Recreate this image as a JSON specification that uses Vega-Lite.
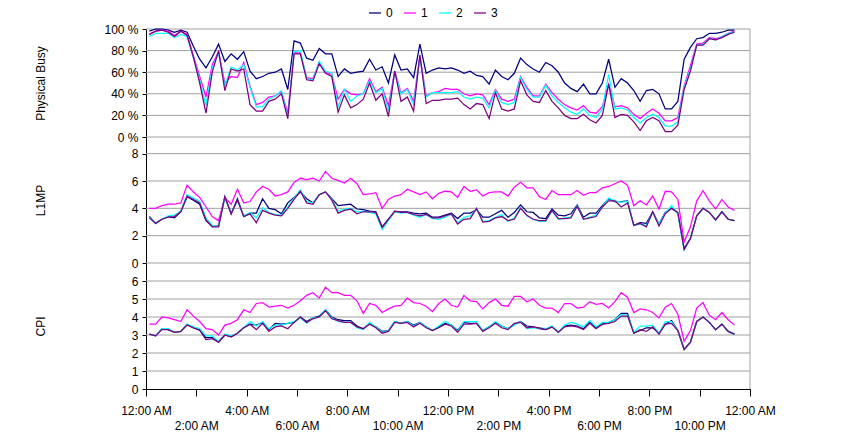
{
  "$schema": "https://vega.github.io/schema/vega-lite/v6.json",
  "padding": {"left": 34, "top": 6, "right": 5, "bottom": 0},
  "spacing": 0,
  "bounds": "flush",
  "config": {
    "font": "Liberation Sans",
    "view": {"stroke": null},
    "axis": {
      "labelFont": "Liberation Sans", "labelFontSize": 12, "labelColor": "black",
      "titleFont": "Liberation Sans", "titleFontSize": 12, "titleFontWeight": "normal", "titleColor": "black",
      "domainColor": "black", "tickColor": "black", "grid": false, "labelOverlap": false
    },
    "line": {"strokeWidth": 1.25},
    "rule": {"color": "#a0a0a0", "strokeWidth": 1}
  },
  "data": {"values": [
    {"time":"2024-01-01T00:08","cpu":"0","busy":98,"l1mp":3.4,"cpi":3.05},
    {"time":"2024-01-01T00:23","cpu":"0","busy":100,"l1mp":2.9,"cpi":2.95},
    {"time":"2024-01-01T00:38","cpu":"0","busy":100,"l1mp":3.2,"cpi":3.35},
    {"time":"2024-01-01T00:53","cpu":"0","busy":99,"l1mp":3.4,"cpi":3.3},
    {"time":"2024-01-01T01:08","cpu":"0","busy":97,"l1mp":3.3,"cpi":3.15},
    {"time":"2024-01-01T01:23","cpu":"0","busy":99,"l1mp":3.75,"cpi":3.2},
    {"time":"2024-01-01T01:38","cpu":"0","busy":97,"l1mp":4.85,"cpi":3.6},
    {"time":"2024-01-01T01:53","cpu":"0","busy":84,"l1mp":4.6,"cpi":3.4},
    {"time":"2024-01-01T02:08","cpu":"0","busy":72,"l1mp":4.3,"cpi":3.3},
    {"time":"2024-01-01T02:23","cpu":"0","busy":64,"l1mp":3.1,"cpi":2.85},
    {"time":"2024-01-01T02:38","cpu":"0","busy":74,"l1mp":2.7,"cpi":2.85},
    {"time":"2024-01-01T02:53","cpu":"0","busy":86,"l1mp":2.7,"cpi":2.6},
    {"time":"2024-01-01T03:08","cpu":"0","busy":70,"l1mp":4.85,"cpi":3.0},
    {"time":"2024-01-01T03:23","cpu":"0","busy":77,"l1mp":3.6,"cpi":2.9},
    {"time":"2024-01-01T03:38","cpu":"0","busy":72,"l1mp":4.7,"cpi":3.1},
    {"time":"2024-01-01T03:53","cpu":"0","busy":79,"l1mp":3.4,"cpi":3.4},
    {"time":"2024-01-01T04:08","cpu":"0","busy":61,"l1mp":3.65,"cpi":3.6},
    {"time":"2024-01-01T04:23","cpu":"0","busy":54,"l1mp":3.65,"cpi":3.55},
    {"time":"2024-01-01T04:38","cpu":"0","busy":56,"l1mp":4.7,"cpi":3.7},
    {"time":"2024-01-01T04:53","cpu":"0","busy":59,"l1mp":4.0,"cpi":3.3},
    {"time":"2024-01-01T05:08","cpu":"0","busy":60,"l1mp":3.9,"cpi":3.65},
    {"time":"2024-01-01T05:23","cpu":"0","busy":63,"l1mp":3.6,"cpi":3.6},
    {"time":"2024-01-01T05:38","cpu":"0","busy":44,"l1mp":4.4,"cpi":3.65},
    {"time":"2024-01-01T05:53","cpu":"0","busy":89,"l1mp":4.8,"cpi":3.7},
    {"time":"2024-01-01T06:08","cpu":"0","busy":87,"l1mp":5.2,"cpi":4.0},
    {"time":"2024-01-01T06:23","cpu":"0","busy":73,"l1mp":4.7,"cpi":3.75},
    {"time":"2024-01-01T06:38","cpu":"0","busy":71,"l1mp":4.4,"cpi":3.95},
    {"time":"2024-01-01T06:53","cpu":"0","busy":82,"l1mp":5.0,"cpi":4.05},
    {"time":"2024-01-01T07:08","cpu":"0","busy":77,"l1mp":5.2,"cpi":4.4},
    {"time":"2024-01-01T07:23","cpu":"0","busy":77,"l1mp":4.7,"cpi":4.0},
    {"time":"2024-01-01T07:38","cpu":"0","busy":56,"l1mp":4.2,"cpi":3.85},
    {"time":"2024-01-01T07:53","cpu":"0","busy":63,"l1mp":4.25,"cpi":3.8},
    {"time":"2024-01-01T08:08","cpu":"0","busy":59,"l1mp":4.3,"cpi":3.8},
    {"time":"2024-01-01T08:23","cpu":"0","busy":60,"l1mp":3.95,"cpi":3.5},
    {"time":"2024-01-01T08:38","cpu":"0","busy":61,"l1mp":3.9,"cpi":3.35},
    {"time":"2024-01-01T08:53","cpu":"0","busy":72,"l1mp":3.8,"cpi":3.65},
    {"time":"2024-01-01T09:08","cpu":"0","busy":62,"l1mp":3.75,"cpi":3.45},
    {"time":"2024-01-01T09:23","cpu":"0","busy":65,"l1mp":2.65,"cpi":3.2},
    {"time":"2024-01-01T09:38","cpu":"0","busy":50,"l1mp":3.2,"cpi":3.25},
    {"time":"2024-01-01T09:53","cpu":"0","busy":76,"l1mp":3.75,"cpi":3.75},
    {"time":"2024-01-01T10:08","cpu":"0","busy":62,"l1mp":3.75,"cpi":3.65},
    {"time":"2024-01-01T10:23","cpu":"0","busy":63,"l1mp":3.75,"cpi":3.75},
    {"time":"2024-01-01T10:38","cpu":"0","busy":55,"l1mp":3.65,"cpi":3.55},
    {"time":"2024-01-01T10:53","cpu":"0","busy":86,"l1mp":3.6,"cpi":3.7},
    {"time":"2024-01-01T11:08","cpu":"0","busy":59,"l1mp":3.65,"cpi":3.45},
    {"time":"2024-01-01T11:23","cpu":"0","busy":62,"l1mp":3.35,"cpi":3.25},
    {"time":"2024-01-01T11:38","cpu":"0","busy":64,"l1mp":3.35,"cpi":3.45},
    {"time":"2024-01-01T11:53","cpu":"0","busy":63,"l1mp":3.5,"cpi":3.65},
    {"time":"2024-01-01T12:08","cpu":"0","busy":64,"l1mp":3.65,"cpi":3.55},
    {"time":"2024-01-01T12:23","cpu":"0","busy":62,"l1mp":3.25,"cpi":3.25},
    {"time":"2024-01-01T12:38","cpu":"0","busy":59,"l1mp":3.65,"cpi":3.7},
    {"time":"2024-01-01T12:53","cpu":"0","busy":61,"l1mp":3.65,"cpi":3.65},
    {"time":"2024-01-01T13:08","cpu":"0","busy":57,"l1mp":3.9,"cpi":3.65},
    {"time":"2024-01-01T13:23","cpu":"0","busy":56,"l1mp":3.35,"cpi":3.25},
    {"time":"2024-01-01T13:38","cpu":"0","busy":49,"l1mp":3.35,"cpi":3.45},
    {"time":"2024-01-01T13:53","cpu":"0","busy":62,"l1mp":3.6,"cpi":3.7},
    {"time":"2024-01-01T14:08","cpu":"0","busy":56,"l1mp":3.85,"cpi":3.5},
    {"time":"2024-01-01T14:23","cpu":"0","busy":53,"l1mp":3.35,"cpi":3.35},
    {"time":"2024-01-01T14:38","cpu":"0","busy":59,"l1mp":3.7,"cpi":3.6},
    {"time":"2024-01-01T14:53","cpu":"0","busy":73,"l1mp":4.25,"cpi":3.75},
    {"time":"2024-01-01T15:08","cpu":"0","busy":67,"l1mp":3.75,"cpi":3.5},
    {"time":"2024-01-01T15:23","cpu":"0","busy":63,"l1mp":3.7,"cpi":3.45},
    {"time":"2024-01-01T15:38","cpu":"0","busy":60,"l1mp":3.3,"cpi":3.35},
    {"time":"2024-01-01T15:53","cpu":"0","busy":69,"l1mp":3.25,"cpi":3.3},
    {"time":"2024-01-01T16:08","cpu":"0","busy":66,"l1mp":3.95,"cpi":3.45},
    {"time":"2024-01-01T16:23","cpu":"0","busy":60,"l1mp":3.5,"cpi":3.15},
    {"time":"2024-01-01T16:38","cpu":"0","busy":50,"l1mp":3.45,"cpi":3.5},
    {"time":"2024-01-01T16:53","cpu":"0","busy":45,"l1mp":3.6,"cpi":3.55},
    {"time":"2024-01-01T17:08","cpu":"0","busy":42,"l1mp":4.25,"cpi":3.5},
    {"time":"2024-01-01T17:23","cpu":"0","busy":49,"l1mp":3.35,"cpi":3.35},
    {"time":"2024-01-01T17:38","cpu":"0","busy":40,"l1mp":3.65,"cpi":3.75},
    {"time":"2024-01-01T17:53","cpu":"0","busy":40,"l1mp":3.65,"cpi":3.4},
    {"time":"2024-01-01T18:08","cpu":"0","busy":50,"l1mp":4.2,"cpi":3.6},
    {"time":"2024-01-01T18:23","cpu":"0","busy":72,"l1mp":4.7,"cpi":3.7},
    {"time":"2024-01-01T18:38","cpu":"0","busy":46,"l1mp":4.5,"cpi":3.85},
    {"time":"2024-01-01T18:53","cpu":"0","busy":54,"l1mp":4.5,"cpi":4.2},
    {"time":"2024-01-01T19:08","cpu":"0","busy":50,"l1mp":4.55,"cpi":4.2},
    {"time":"2024-01-01T19:23","cpu":"0","busy":43,"l1mp":2.75,"cpi":3.1},
    {"time":"2024-01-01T19:38","cpu":"0","busy":33,"l1mp":2.95,"cpi":3.25},
    {"time":"2024-01-01T19:53","cpu":"0","busy":43,"l1mp":2.9,"cpi":3.4},
    {"time":"2024-01-01T20:08","cpu":"0","busy":44,"l1mp":3.75,"cpi":3.4},
    {"time":"2024-01-01T20:23","cpu":"0","busy":40,"l1mp":2.85,"cpi":3.1},
    {"time":"2024-01-01T20:38","cpu":"0","busy":26,"l1mp":3.7,"cpi":3.6},
    {"time":"2024-01-01T20:53","cpu":"0","busy":26,"l1mp":4.0,"cpi":3.8},
    {"time":"2024-01-01T21:08","cpu":"0","busy":33,"l1mp":3.65,"cpi":3.25},
    {"time":"2024-01-01T21:23","cpu":"0","busy":72,"l1mp":1.05,"cpi":2.2},
    {"time":"2024-01-01T21:38","cpu":"0","busy":83,"l1mp":1.8,"cpi":2.6},
    {"time":"2024-01-01T21:53","cpu":"0","busy":91,"l1mp":3.45,"cpi":3.75},
    {"time":"2024-01-01T22:08","cpu":"0","busy":92,"l1mp":4.0,"cpi":4.0},
    {"time":"2024-01-01T22:23","cpu":"0","busy":96,"l1mp":3.7,"cpi":3.7},
    {"time":"2024-01-01T22:38","cpu":"0","busy":96,"l1mp":3.15,"cpi":3.3},
    {"time":"2024-01-01T22:53","cpu":"0","busy":97,"l1mp":3.75,"cpi":3.6},
    {"time":"2024-01-01T23:08","cpu":"0","busy":99,"l1mp":3.2,"cpi":3.2},
    {"time":"2024-01-01T23:23","cpu":"0","busy":99,"l1mp":3.1,"cpi":3.05},
    {"time":"2024-01-01T00:08","cpu":"1","busy":95,"l1mp":4.0,"cpi":3.6},
    {"time":"2024-01-01T00:23","cpu":"1","busy":98,"l1mp":4.0,"cpi":3.6},
    {"time":"2024-01-01T00:38","cpu":"1","busy":99,"l1mp":4.2,"cpi":4.0},
    {"time":"2024-01-01T00:53","cpu":"1","busy":98,"l1mp":4.3,"cpi":3.95},
    {"time":"2024-01-01T01:08","cpu":"1","busy":94,"l1mp":4.3,"cpi":3.85},
    {"time":"2024-01-01T01:23","cpu":"1","busy":98,"l1mp":4.4,"cpi":3.75},
    {"time":"2024-01-01T01:38","cpu":"1","busy":95,"l1mp":5.7,"cpi":4.4},
    {"time":"2024-01-01T01:53","cpu":"1","busy":75,"l1mp":5.2,"cpi":4.05},
    {"time":"2024-01-01T02:08","cpu":"1","busy":56,"l1mp":4.8,"cpi":3.75},
    {"time":"2024-01-01T02:23","cpu":"1","busy":37,"l1mp":4.1,"cpi":3.35},
    {"time":"2024-01-01T02:38","cpu":"1","busy":67,"l1mp":3.4,"cpi":3.3},
    {"time":"2024-01-01T02:53","cpu":"1","busy":79,"l1mp":3.1,"cpi":3.0},
    {"time":"2024-01-01T03:08","cpu":"1","busy":50,"l1mp":4.8,"cpi":3.55},
    {"time":"2024-01-01T03:23","cpu":"1","busy":56,"l1mp":4.3,"cpi":3.65},
    {"time":"2024-01-01T03:38","cpu":"1","busy":55,"l1mp":5.4,"cpi":3.85},
    {"time":"2024-01-01T03:53","cpu":"1","busy":69,"l1mp":4.4,"cpi":4.4},
    {"time":"2024-01-01T04:08","cpu":"1","busy":47,"l1mp":4.5,"cpi":4.25},
    {"time":"2024-01-01T04:23","cpu":"1","busy":30,"l1mp":5.2,"cpi":4.75},
    {"time":"2024-01-01T04:38","cpu":"1","busy":32,"l1mp":5.6,"cpi":4.8},
    {"time":"2024-01-01T04:53","cpu":"1","busy":37,"l1mp":5.4,"cpi":4.55},
    {"time":"2024-01-01T05:08","cpu":"1","busy":38,"l1mp":4.9,"cpi":4.6},
    {"time":"2024-01-01T05:23","cpu":"1","busy":42,"l1mp":5.0,"cpi":4.65},
    {"time":"2024-01-01T05:38","cpu":"1","busy":22,"l1mp":5.2,"cpi":4.5},
    {"time":"2024-01-01T05:53","cpu":"1","busy":78,"l1mp":5.9,"cpi":4.65},
    {"time":"2024-01-01T06:08","cpu":"1","busy":78,"l1mp":6.2,"cpi":4.9},
    {"time":"2024-01-01T06:23","cpu":"1","busy":55,"l1mp":6.1,"cpi":5.2},
    {"time":"2024-01-01T06:38","cpu":"1","busy":54,"l1mp":6.2,"cpi":5.35},
    {"time":"2024-01-01T06:53","cpu":"1","busy":69,"l1mp":6.0,"cpi":5.05},
    {"time":"2024-01-01T07:08","cpu":"1","busy":60,"l1mp":6.7,"cpi":5.65},
    {"time":"2024-01-01T07:23","cpu":"1","busy":58,"l1mp":6.2,"cpi":5.35},
    {"time":"2024-01-01T07:38","cpu":"1","busy":35,"l1mp":6.05,"cpi":5.35},
    {"time":"2024-01-01T07:53","cpu":"1","busy":44,"l1mp":5.85,"cpi":5.2},
    {"time":"2024-01-01T08:08","cpu":"1","busy":40,"l1mp":6.2,"cpi":5.2},
    {"time":"2024-01-01T08:23","cpu":"1","busy":39,"l1mp":5.8,"cpi":4.9},
    {"time":"2024-01-01T08:38","cpu":"1","busy":40,"l1mp":5.0,"cpi":4.2},
    {"time":"2024-01-01T08:53","cpu":"1","busy":54,"l1mp":5.05,"cpi":4.75},
    {"time":"2024-01-01T09:08","cpu":"1","busy":42,"l1mp":5.15,"cpi":4.65},
    {"time":"2024-01-01T09:23","cpu":"1","busy":46,"l1mp":4.0,"cpi":4.25},
    {"time":"2024-01-01T09:38","cpu":"1","busy":29,"l1mp":4.65,"cpi":4.45},
    {"time":"2024-01-01T09:53","cpu":"1","busy":61,"l1mp":4.9,"cpi":4.6},
    {"time":"2024-01-01T10:08","cpu":"1","busy":41,"l1mp":5.0,"cpi":4.65},
    {"time":"2024-01-01T10:23","cpu":"1","busy":45,"l1mp":5.4,"cpi":5.05},
    {"time":"2024-01-01T10:38","cpu":"1","busy":33,"l1mp":5.2,"cpi":4.8},
    {"time":"2024-01-01T10:53","cpu":"1","busy":75,"l1mp":5.0,"cpi":4.75},
    {"time":"2024-01-01T11:08","cpu":"1","busy":38,"l1mp":5.2,"cpi":4.6},
    {"time":"2024-01-01T11:23","cpu":"1","busy":41,"l1mp":4.7,"cpi":4.3},
    {"time":"2024-01-01T11:38","cpu":"1","busy":42,"l1mp":5.1,"cpi":4.75},
    {"time":"2024-01-01T11:53","cpu":"1","busy":45,"l1mp":5.25,"cpi":5.0},
    {"time":"2024-01-01T12:08","cpu":"1","busy":44,"l1mp":5.2,"cpi":4.65},
    {"time":"2024-01-01T12:23","cpu":"1","busy":44,"l1mp":4.8,"cpi":4.55},
    {"time":"2024-01-01T12:38","cpu":"1","busy":40,"l1mp":5.6,"cpi":5.2},
    {"time":"2024-01-01T12:53","cpu":"1","busy":38,"l1mp":5.25,"cpi":4.9},
    {"time":"2024-01-01T13:08","cpu":"1","busy":40,"l1mp":5.35,"cpi":4.85},
    {"time":"2024-01-01T13:23","cpu":"1","busy":39,"l1mp":4.9,"cpi":4.45},
    {"time":"2024-01-01T13:38","cpu":"1","busy":30,"l1mp":5.15,"cpi":4.8},
    {"time":"2024-01-01T13:53","cpu":"1","busy":44,"l1mp":5.2,"cpi":5.0},
    {"time":"2024-01-01T14:08","cpu":"1","busy":35,"l1mp":5.2,"cpi":4.65},
    {"time":"2024-01-01T14:23","cpu":"1","busy":33,"l1mp":4.9,"cpi":4.6},
    {"time":"2024-01-01T14:38","cpu":"1","busy":35,"l1mp":5.55,"cpi":5.15},
    {"time":"2024-01-01T14:53","cpu":"1","busy":56,"l1mp":5.9,"cpi":5.15},
    {"time":"2024-01-01T15:08","cpu":"1","busy":46,"l1mp":5.5,"cpi":4.85},
    {"time":"2024-01-01T15:23","cpu":"1","busy":38,"l1mp":5.5,"cpi":5.0},
    {"time":"2024-01-01T15:38","cpu":"1","busy":38,"l1mp":4.85,"cpi":4.65},
    {"time":"2024-01-01T15:53","cpu":"1","busy":49,"l1mp":4.65,"cpi":4.5},
    {"time":"2024-01-01T16:08","cpu":"1","busy":41,"l1mp":5.3,"cpi":4.5},
    {"time":"2024-01-01T16:23","cpu":"1","busy":35,"l1mp":5.0,"cpi":4.25},
    {"time":"2024-01-01T16:38","cpu":"1","busy":30,"l1mp":5.0,"cpi":4.75},
    {"time":"2024-01-01T16:53","cpu":"1","busy":27,"l1mp":5.0,"cpi":4.75},
    {"time":"2024-01-01T17:08","cpu":"1","busy":25,"l1mp":5.3,"cpi":4.5},
    {"time":"2024-01-01T17:23","cpu":"1","busy":29,"l1mp":4.95,"cpi":4.55},
    {"time":"2024-01-01T17:38","cpu":"1","busy":23,"l1mp":5.15,"cpi":4.85},
    {"time":"2024-01-01T17:53","cpu":"1","busy":22,"l1mp":5.15,"cpi":4.7},
    {"time":"2024-01-01T18:08","cpu":"1","busy":28,"l1mp":5.5,"cpi":4.75},
    {"time":"2024-01-01T18:23","cpu":"1","busy":49,"l1mp":5.6,"cpi":4.5},
    {"time":"2024-01-01T18:38","cpu":"1","busy":28,"l1mp":5.8,"cpi":4.85},
    {"time":"2024-01-01T18:53","cpu":"1","busy":29,"l1mp":6.0,"cpi":5.35},
    {"time":"2024-01-01T19:08","cpu":"1","busy":27,"l1mp":5.7,"cpi":5.1},
    {"time":"2024-01-01T19:23","cpu":"1","busy":21,"l1mp":4.2,"cpi":4.25},
    {"time":"2024-01-01T19:38","cpu":"1","busy":17,"l1mp":4.55,"cpi":4.45},
    {"time":"2024-01-01T19:53","cpu":"1","busy":22,"l1mp":4.25,"cpi":4.4},
    {"time":"2024-01-01T20:08","cpu":"1","busy":26,"l1mp":4.9,"cpi":4.25},
    {"time":"2024-01-01T20:23","cpu":"1","busy":22,"l1mp":3.95,"cpi":3.95},
    {"time":"2024-01-01T20:38","cpu":"1","busy":15,"l1mp":5.25,"cpi":4.55},
    {"time":"2024-01-01T20:53","cpu":"1","busy":15,"l1mp":5.2,"cpi":4.75},
    {"time":"2024-01-01T21:08","cpu":"1","busy":18,"l1mp":4.65,"cpi":4.15},
    {"time":"2024-01-01T21:23","cpu":"1","busy":47,"l1mp":1.55,"cpi":2.65},
    {"time":"2024-01-01T21:38","cpu":"1","busy":66,"l1mp":2.65,"cpi":3.25},
    {"time":"2024-01-01T21:53","cpu":"1","busy":86,"l1mp":4.55,"cpi":4.5},
    {"time":"2024-01-01T22:08","cpu":"1","busy":87,"l1mp":5.3,"cpi":4.8},
    {"time":"2024-01-01T22:23","cpu":"1","busy":92,"l1mp":4.55,"cpi":4.1},
    {"time":"2024-01-01T22:38","cpu":"1","busy":91,"l1mp":3.95,"cpi":3.85},
    {"time":"2024-01-01T22:53","cpu":"1","busy":93,"l1mp":4.65,"cpi":4.25},
    {"time":"2024-01-01T23:08","cpu":"1","busy":96,"l1mp":4.1,"cpi":3.85},
    {"time":"2024-01-01T23:23","cpu":"1","busy":98,"l1mp":3.85,"cpi":3.55},
    {"time":"2024-01-01T00:08","cpu":"2","busy":93,"l1mp":3.35,"cpi":3.05},
    {"time":"2024-01-01T00:23","cpu":"2","busy":96,"l1mp":2.9,"cpi":2.95},
    {"time":"2024-01-01T00:38","cpu":"2","busy":96,"l1mp":3.2,"cpi":3.35},
    {"time":"2024-01-01T00:53","cpu":"2","busy":96,"l1mp":3.45,"cpi":3.35},
    {"time":"2024-01-01T01:08","cpu":"2","busy":92,"l1mp":3.5,"cpi":3.15},
    {"time":"2024-01-01T01:23","cpu":"2","busy":95,"l1mp":3.8,"cpi":3.2},
    {"time":"2024-01-01T01:38","cpu":"2","busy":93,"l1mp":5.0,"cpi":3.6},
    {"time":"2024-01-01T01:53","cpu":"2","busy":73,"l1mp":4.75,"cpi":3.45},
    {"time":"2024-01-01T02:08","cpu":"2","busy":53,"l1mp":4.5,"cpi":3.35},
    {"time":"2024-01-01T02:23","cpu":"2","busy":29,"l1mp":3.3,"cpi":2.95},
    {"time":"2024-01-01T02:38","cpu":"2","busy":64,"l1mp":2.75,"cpi":2.95},
    {"time":"2024-01-01T02:53","cpu":"2","busy":78,"l1mp":2.65,"cpi":2.65},
    {"time":"2024-01-01T03:08","cpu":"2","busy":47,"l1mp":4.8,"cpi":3.05},
    {"time":"2024-01-01T03:23","cpu":"2","busy":65,"l1mp":3.65,"cpi":2.95},
    {"time":"2024-01-01T03:38","cpu":"2","busy":62,"l1mp":4.55,"cpi":3.1},
    {"time":"2024-01-01T03:53","cpu":"2","busy":67,"l1mp":3.45,"cpi":3.4},
    {"time":"2024-01-01T04:08","cpu":"2","busy":46,"l1mp":3.7,"cpi":3.75},
    {"time":"2024-01-01T04:23","cpu":"2","busy":28,"l1mp":3.3,"cpi":3.5},
    {"time":"2024-01-01T04:38","cpu":"2","busy":28,"l1mp":4.05,"cpi":3.75},
    {"time":"2024-01-01T04:53","cpu":"2","busy":35,"l1mp":3.7,"cpi":3.35},
    {"time":"2024-01-01T05:08","cpu":"2","busy":38,"l1mp":3.55,"cpi":3.55},
    {"time":"2024-01-01T05:23","cpu":"2","busy":43,"l1mp":3.5,"cpi":3.55},
    {"time":"2024-01-01T05:38","cpu":"2","busy":18,"l1mp":4.1,"cpi":3.65},
    {"time":"2024-01-01T05:53","cpu":"2","busy":79,"l1mp":4.75,"cpi":3.75},
    {"time":"2024-01-01T06:08","cpu":"2","busy":80,"l1mp":5.35,"cpi":3.95},
    {"time":"2024-01-01T06:23","cpu":"2","busy":54,"l1mp":4.5,"cpi":3.65},
    {"time":"2024-01-01T06:38","cpu":"2","busy":53,"l1mp":4.4,"cpi":3.95},
    {"time":"2024-01-01T06:53","cpu":"2","busy":70,"l1mp":5.0,"cpi":4.0},
    {"time":"2024-01-01T07:08","cpu":"2","busy":61,"l1mp":5.2,"cpi":4.4},
    {"time":"2024-01-01T07:23","cpu":"2","busy":59,"l1mp":4.65,"cpi":3.95},
    {"time":"2024-01-01T07:38","cpu":"2","busy":28,"l1mp":3.8,"cpi":3.75},
    {"time":"2024-01-01T07:53","cpu":"2","busy":44,"l1mp":3.95,"cpi":3.7},
    {"time":"2024-01-01T08:08","cpu":"2","busy":33,"l1mp":4.0,"cpi":3.7},
    {"time":"2024-01-01T08:23","cpu":"2","busy":38,"l1mp":3.75,"cpi":3.4},
    {"time":"2024-01-01T08:38","cpu":"2","busy":40,"l1mp":3.8,"cpi":3.3},
    {"time":"2024-01-01T08:53","cpu":"2","busy":52,"l1mp":3.7,"cpi":3.7},
    {"time":"2024-01-01T09:08","cpu":"2","busy":41,"l1mp":3.6,"cpi":3.45},
    {"time":"2024-01-01T09:23","cpu":"2","busy":45,"l1mp":2.45,"cpi":3.15},
    {"time":"2024-01-01T09:38","cpu":"2","busy":24,"l1mp":3.1,"cpi":3.25},
    {"time":"2024-01-01T09:53","cpu":"2","busy":60,"l1mp":3.75,"cpi":3.75},
    {"time":"2024-01-01T10:08","cpu":"2","busy":40,"l1mp":3.65,"cpi":3.65},
    {"time":"2024-01-01T10:23","cpu":"2","busy":44,"l1mp":3.7,"cpi":3.75},
    {"time":"2024-01-01T10:38","cpu":"2","busy":30,"l1mp":3.5,"cpi":3.5},
    {"time":"2024-01-01T10:53","cpu":"2","busy":73,"l1mp":3.35,"cpi":3.7},
    {"time":"2024-01-01T11:08","cpu":"2","busy":37,"l1mp":3.55,"cpi":3.45},
    {"time":"2024-01-01T11:23","cpu":"2","busy":41,"l1mp":3.25,"cpi":3.25},
    {"time":"2024-01-01T11:38","cpu":"2","busy":41,"l1mp":3.2,"cpi":3.5},
    {"time":"2024-01-01T11:53","cpu":"2","busy":41,"l1mp":3.35,"cpi":3.75},
    {"time":"2024-01-01T12:08","cpu":"2","busy":41,"l1mp":3.55,"cpi":3.55},
    {"time":"2024-01-01T12:23","cpu":"2","busy":42,"l1mp":2.95,"cpi":3.2},
    {"time":"2024-01-01T12:38","cpu":"2","busy":37,"l1mp":3.35,"cpi":3.75},
    {"time":"2024-01-01T12:53","cpu":"2","busy":35,"l1mp":3.45,"cpi":3.75},
    {"time":"2024-01-01T13:08","cpu":"2","busy":37,"l1mp":3.95,"cpi":3.75},
    {"time":"2024-01-01T13:23","cpu":"2","busy":36,"l1mp":3.05,"cpi":3.25},
    {"time":"2024-01-01T13:38","cpu":"2","busy":27,"l1mp":3.1,"cpi":3.45},
    {"time":"2024-01-01T13:53","cpu":"2","busy":43,"l1mp":3.35,"cpi":3.75},
    {"time":"2024-01-01T14:08","cpu":"2","busy":32,"l1mp":3.55,"cpi":3.5},
    {"time":"2024-01-01T14:23","cpu":"2","busy":30,"l1mp":3.05,"cpi":3.35},
    {"time":"2024-01-01T14:38","cpu":"2","busy":32,"l1mp":3.3,"cpi":3.55},
    {"time":"2024-01-01T14:53","cpu":"2","busy":55,"l1mp":4.05,"cpi":3.75},
    {"time":"2024-01-01T15:08","cpu":"2","busy":44,"l1mp":3.45,"cpi":3.35},
    {"time":"2024-01-01T15:23","cpu":"2","busy":37,"l1mp":3.2,"cpi":3.4},
    {"time":"2024-01-01T15:38","cpu":"2","busy":37,"l1mp":3.05,"cpi":3.4},
    {"time":"2024-01-01T15:53","cpu":"2","busy":48,"l1mp":3.05,"cpi":3.35},
    {"time":"2024-01-01T16:08","cpu":"2","busy":38,"l1mp":3.8,"cpi":3.5},
    {"time":"2024-01-01T16:23","cpu":"2","busy":32,"l1mp":3.2,"cpi":3.15},
    {"time":"2024-01-01T16:38","cpu":"2","busy":27,"l1mp":3.3,"cpi":3.55},
    {"time":"2024-01-01T16:53","cpu":"2","busy":23,"l1mp":3.35,"cpi":3.7},
    {"time":"2024-01-01T17:08","cpu":"2","busy":21,"l1mp":4.2,"cpi":3.6},
    {"time":"2024-01-01T17:23","cpu":"2","busy":26,"l1mp":3.2,"cpi":3.45},
    {"time":"2024-01-01T17:38","cpu":"2","busy":20,"l1mp":3.35,"cpi":3.8},
    {"time":"2024-01-01T17:53","cpu":"2","busy":18,"l1mp":3.5,"cpi":3.45},
    {"time":"2024-01-01T18:08","cpu":"2","busy":26,"l1mp":4.1,"cpi":3.7},
    {"time":"2024-01-01T18:23","cpu":"2","busy":58,"l1mp":4.75,"cpi":3.7},
    {"time":"2024-01-01T18:38","cpu":"2","busy":26,"l1mp":4.55,"cpi":3.85},
    {"time":"2024-01-01T18:53","cpu":"2","busy":27,"l1mp":4.45,"cpi":4.15},
    {"time":"2024-01-01T19:08","cpu":"2","busy":25,"l1mp":4.5,"cpi":4.1},
    {"time":"2024-01-01T19:23","cpu":"2","busy":18,"l1mp":2.75,"cpi":3.15},
    {"time":"2024-01-01T19:38","cpu":"2","busy":13,"l1mp":2.85,"cpi":3.5},
    {"time":"2024-01-01T19:53","cpu":"2","busy":18,"l1mp":2.75,"cpi":3.5},
    {"time":"2024-01-01T20:08","cpu":"2","busy":21,"l1mp":3.7,"cpi":3.55},
    {"time":"2024-01-01T20:23","cpu":"2","busy":18,"l1mp":2.85,"cpi":3.1},
    {"time":"2024-01-01T20:38","cpu":"2","busy":10,"l1mp":3.65,"cpi":3.75},
    {"time":"2024-01-01T20:53","cpu":"2","busy":10,"l1mp":4.2,"cpi":3.75},
    {"time":"2024-01-01T21:08","cpu":"2","busy":14,"l1mp":3.6,"cpi":3.25},
    {"time":"2024-01-01T21:23","cpu":"2","busy":46,"l1mp":0.95,"cpi":2.2},
    {"time":"2024-01-01T21:38","cpu":"2","busy":63,"l1mp":1.8,"cpi":2.6},
    {"time":"2024-01-01T21:53","cpu":"2","busy":85,"l1mp":3.45,"cpi":3.75},
    {"time":"2024-01-01T22:08","cpu":"2","busy":86,"l1mp":4.0,"cpi":4.0},
    {"time":"2024-01-01T22:23","cpu":"2","busy":91,"l1mp":3.7,"cpi":3.7},
    {"time":"2024-01-01T22:38","cpu":"2","busy":90,"l1mp":3.15,"cpi":3.3},
    {"time":"2024-01-01T22:53","cpu":"2","busy":93,"l1mp":3.75,"cpi":3.6},
    {"time":"2024-01-01T23:08","cpu":"2","busy":96,"l1mp":3.2,"cpi":3.2},
    {"time":"2024-01-01T23:23","cpu":"2","busy":97,"l1mp":3.1,"cpi":3.05},
    {"time":"2024-01-01T00:08","cpu":"3","busy":95,"l1mp":3.3,"cpi":3.05},
    {"time":"2024-01-01T00:23","cpu":"3","busy":98,"l1mp":2.9,"cpi":2.95},
    {"time":"2024-01-01T00:38","cpu":"3","busy":99,"l1mp":3.2,"cpi":3.3},
    {"time":"2024-01-01T00:53","cpu":"3","busy":97,"l1mp":3.35,"cpi":3.3},
    {"time":"2024-01-01T01:08","cpu":"3","busy":93,"l1mp":3.4,"cpi":3.15},
    {"time":"2024-01-01T01:23","cpu":"3","busy":98,"l1mp":3.75,"cpi":3.2},
    {"time":"2024-01-01T01:38","cpu":"3","busy":94,"l1mp":4.9,"cpi":3.55},
    {"time":"2024-01-01T01:53","cpu":"3","busy":74,"l1mp":4.65,"cpi":3.4},
    {"time":"2024-01-01T02:08","cpu":"3","busy":50,"l1mp":4.4,"cpi":3.25},
    {"time":"2024-01-01T02:23","cpu":"3","busy":22,"l1mp":3.15,"cpi":2.75},
    {"time":"2024-01-01T02:38","cpu":"3","busy":60,"l1mp":2.65,"cpi":2.8},
    {"time":"2024-01-01T02:53","cpu":"3","busy":80,"l1mp":2.65,"cpi":2.6},
    {"time":"2024-01-01T03:08","cpu":"3","busy":43,"l1mp":4.85,"cpi":3.0},
    {"time":"2024-01-01T03:23","cpu":"3","busy":63,"l1mp":3.6,"cpi":2.9},
    {"time":"2024-01-01T03:38","cpu":"3","busy":61,"l1mp":4.6,"cpi":3.1},
    {"time":"2024-01-01T03:53","cpu":"3","busy":63,"l1mp":3.4,"cpi":3.4},
    {"time":"2024-01-01T04:08","cpu":"3","busy":30,"l1mp":3.6,"cpi":3.6},
    {"time":"2024-01-01T04:23","cpu":"3","busy":24,"l1mp":2.95,"cpi":3.3},
    {"time":"2024-01-01T04:38","cpu":"3","busy":24,"l1mp":3.85,"cpi":3.65},
    {"time":"2024-01-01T04:53","cpu":"3","busy":33,"l1mp":3.65,"cpi":3.2},
    {"time":"2024-01-01T05:08","cpu":"3","busy":35,"l1mp":3.5,"cpi":3.45},
    {"time":"2024-01-01T05:23","cpu":"3","busy":40,"l1mp":3.45,"cpi":3.5},
    {"time":"2024-01-01T05:38","cpu":"3","busy":17,"l1mp":4.0,"cpi":3.35},
    {"time":"2024-01-01T05:53","cpu":"3","busy":77,"l1mp":4.65,"cpi":3.7},
    {"time":"2024-01-01T06:08","cpu":"3","busy":77,"l1mp":5.25,"cpi":4.0},
    {"time":"2024-01-01T06:23","cpu":"3","busy":53,"l1mp":4.4,"cpi":3.7},
    {"time":"2024-01-01T06:38","cpu":"3","busy":52,"l1mp":4.3,"cpi":3.9},
    {"time":"2024-01-01T06:53","cpu":"3","busy":68,"l1mp":5.0,"cpi":4.0},
    {"time":"2024-01-01T07:08","cpu":"3","busy":59,"l1mp":5.2,"cpi":4.35},
    {"time":"2024-01-01T07:23","cpu":"3","busy":56,"l1mp":4.6,"cpi":3.9},
    {"time":"2024-01-01T07:38","cpu":"3","busy":23,"l1mp":3.65,"cpi":3.8},
    {"time":"2024-01-01T07:53","cpu":"3","busy":39,"l1mp":3.85,"cpi":3.7},
    {"time":"2024-01-01T08:08","cpu":"3","busy":27,"l1mp":3.95,"cpi":3.7},
    {"time":"2024-01-01T08:23","cpu":"3","busy":30,"l1mp":3.6,"cpi":3.45},
    {"time":"2024-01-01T08:38","cpu":"3","busy":35,"l1mp":3.75,"cpi":3.35},
    {"time":"2024-01-01T08:53","cpu":"3","busy":50,"l1mp":3.75,"cpi":3.6},
    {"time":"2024-01-01T09:08","cpu":"3","busy":34,"l1mp":3.7,"cpi":3.4},
    {"time":"2024-01-01T09:23","cpu":"3","busy":40,"l1mp":2.6,"cpi":3.1},
    {"time":"2024-01-01T09:38","cpu":"3","busy":19,"l1mp":3.2,"cpi":3.2},
    {"time":"2024-01-01T09:53","cpu":"3","busy":61,"l1mp":3.8,"cpi":3.7},
    {"time":"2024-01-01T10:08","cpu":"3","busy":33,"l1mp":3.7,"cpi":3.65},
    {"time":"2024-01-01T10:23","cpu":"3","busy":37,"l1mp":3.7,"cpi":3.7},
    {"time":"2024-01-01T10:38","cpu":"3","busy":24,"l1mp":3.55,"cpi":3.45},
    {"time":"2024-01-01T10:53","cpu":"3","busy":76,"l1mp":3.45,"cpi":3.65},
    {"time":"2024-01-01T11:08","cpu":"3","busy":31,"l1mp":3.55,"cpi":3.4},
    {"time":"2024-01-01T11:23","cpu":"3","busy":34,"l1mp":3.3,"cpi":3.25},
    {"time":"2024-01-01T11:38","cpu":"3","busy":34,"l1mp":3.3,"cpi":3.4},
    {"time":"2024-01-01T11:53","cpu":"3","busy":35,"l1mp":3.45,"cpi":3.6},
    {"time":"2024-01-01T12:08","cpu":"3","busy":35,"l1mp":3.6,"cpi":3.5},
    {"time":"2024-01-01T12:23","cpu":"3","busy":36,"l1mp":2.85,"cpi":3.15},
    {"time":"2024-01-01T12:38","cpu":"3","busy":30,"l1mp":3.2,"cpi":3.6},
    {"time":"2024-01-01T12:53","cpu":"3","busy":26,"l1mp":3.25,"cpi":3.6},
    {"time":"2024-01-01T13:08","cpu":"3","busy":31,"l1mp":4.0,"cpi":3.65},
    {"time":"2024-01-01T13:23","cpu":"3","busy":30,"l1mp":3.0,"cpi":3.2},
    {"time":"2024-01-01T13:38","cpu":"3","busy":17,"l1mp":3.05,"cpi":3.4},
    {"time":"2024-01-01T13:53","cpu":"3","busy":41,"l1mp":3.3,"cpi":3.65},
    {"time":"2024-01-01T14:08","cpu":"3","busy":26,"l1mp":3.4,"cpi":3.4},
    {"time":"2024-01-01T14:23","cpu":"3","busy":24,"l1mp":3.1,"cpi":3.3},
    {"time":"2024-01-01T14:38","cpu":"3","busy":26,"l1mp":3.2,"cpi":3.65},
    {"time":"2024-01-01T14:53","cpu":"3","busy":52,"l1mp":4.0,"cpi":3.7},
    {"time":"2024-01-01T15:08","cpu":"3","busy":39,"l1mp":3.5,"cpi":3.4},
    {"time":"2024-01-01T15:23","cpu":"3","busy":33,"l1mp":3.2,"cpi":3.45},
    {"time":"2024-01-01T15:38","cpu":"3","busy":32,"l1mp":3.1,"cpi":3.4},
    {"time":"2024-01-01T15:53","cpu":"3","busy":43,"l1mp":3.1,"cpi":3.3},
    {"time":"2024-01-01T16:08","cpu":"3","busy":33,"l1mp":3.85,"cpi":3.45},
    {"time":"2024-01-01T16:23","cpu":"3","busy":27,"l1mp":3.25,"cpi":3.15},
    {"time":"2024-01-01T16:38","cpu":"3","busy":20,"l1mp":3.25,"cpi":3.45},
    {"time":"2024-01-01T16:53","cpu":"3","busy":17,"l1mp":3.3,"cpi":3.5},
    {"time":"2024-01-01T17:08","cpu":"3","busy":17,"l1mp":4.15,"cpi":3.45},
    {"time":"2024-01-01T17:23","cpu":"3","busy":21,"l1mp":3.2,"cpi":3.3},
    {"time":"2024-01-01T17:38","cpu":"3","busy":16,"l1mp":3.3,"cpi":3.65},
    {"time":"2024-01-01T17:53","cpu":"3","busy":13,"l1mp":3.4,"cpi":3.35},
    {"time":"2024-01-01T18:08","cpu":"3","busy":20,"l1mp":4.1,"cpi":3.6},
    {"time":"2024-01-01T18:23","cpu":"3","busy":49,"l1mp":4.55,"cpi":3.65},
    {"time":"2024-01-01T18:38","cpu":"3","busy":18,"l1mp":4.55,"cpi":3.75},
    {"time":"2024-01-01T18:53","cpu":"3","busy":21,"l1mp":4.1,"cpi":4.05},
    {"time":"2024-01-01T19:08","cpu":"3","busy":20,"l1mp":4.4,"cpi":4.05},
    {"time":"2024-01-01T19:23","cpu":"3","busy":14,"l1mp":2.75,"cpi":3.1},
    {"time":"2024-01-01T19:38","cpu":"3","busy":6,"l1mp":2.9,"cpi":3.3},
    {"time":"2024-01-01T19:53","cpu":"3","busy":15,"l1mp":2.65,"cpi":3.2},
    {"time":"2024-01-01T20:08","cpu":"3","busy":18,"l1mp":3.75,"cpi":3.45},
    {"time":"2024-01-01T20:23","cpu":"3","busy":15,"l1mp":2.7,"cpi":3.05},
    {"time":"2024-01-01T20:38","cpu":"3","busy":5,"l1mp":3.6,"cpi":3.6},
    {"time":"2024-01-01T20:53","cpu":"3","busy":5,"l1mp":4.0,"cpi":3.65},
    {"time":"2024-01-01T21:08","cpu":"3","busy":11,"l1mp":3.7,"cpi":3.25},
    {"time":"2024-01-01T21:23","cpu":"3","busy":44,"l1mp":1.0,"cpi":2.2},
    {"time":"2024-01-01T21:38","cpu":"3","busy":61,"l1mp":1.8,"cpi":2.6},
    {"time":"2024-01-01T21:53","cpu":"3","busy":85,"l1mp":3.45,"cpi":3.75},
    {"time":"2024-01-01T22:08","cpu":"3","busy":85,"l1mp":4.0,"cpi":4.0},
    {"time":"2024-01-01T22:23","cpu":"3","busy":91,"l1mp":3.7,"cpi":3.7},
    {"time":"2024-01-01T22:38","cpu":"3","busy":90,"l1mp":3.15,"cpi":3.3},
    {"time":"2024-01-01T22:53","cpu":"3","busy":92,"l1mp":3.75,"cpi":3.6},
    {"time":"2024-01-01T23:08","cpu":"3","busy":95,"l1mp":3.2,"cpi":3.2},
    {"time":"2024-01-01T23:23","cpu":"3","busy":97,"l1mp":3.1,"cpi":3.05}
  ]},
  "resolve": {"scale": {"color": "shared"}, "legend": {"color": "shared"}},
  "vconcat": [
    {
      "width": 604, "height": 108,
      "layer": [
        {"data": {"values": [{}]}, "mark": "rule", "encoding": {"y": {"datum": 0, "type": "quantitative", "axis": {"values": [0, 20, 40, 60, 80, 100], "labelExpr": "datum.value + ' %'", "tickSize": 4, "labelPadding": 4, "labelOverlap": false, "title": "Physical Busy", "titleX": -106, "titleY": 54, "titleAlign": "center", "titleBaseline": "middle"}}}},
        {"data": {"values": [{}]}, "mark": "rule", "encoding": {"y": {"datum": 20, "type": "quantitative", "axis": {"values": [0, 20, 40, 60, 80, 100], "labelExpr": "datum.value + ' %'", "tickSize": 4, "labelPadding": 4, "labelOverlap": false, "title": "Physical Busy", "titleX": -106, "titleY": 54, "titleAlign": "center", "titleBaseline": "middle"}}}},
        {"data": {"values": [{}]}, "mark": "rule", "encoding": {"y": {"datum": 40, "type": "quantitative", "axis": {"values": [0, 20, 40, 60, 80, 100], "labelExpr": "datum.value + ' %'", "tickSize": 4, "labelPadding": 4, "labelOverlap": false, "title": "Physical Busy", "titleX": -106, "titleY": 54, "titleAlign": "center", "titleBaseline": "middle"}}}},
        {"data": {"values": [{}]}, "mark": "rule", "encoding": {"y": {"datum": 60, "type": "quantitative", "axis": {"values": [0, 20, 40, 60, 80, 100], "labelExpr": "datum.value + ' %'", "tickSize": 4, "labelPadding": 4, "labelOverlap": false, "title": "Physical Busy", "titleX": -106, "titleY": 54, "titleAlign": "center", "titleBaseline": "middle"}}}},
        {"data": {"values": [{}]}, "mark": "rule", "encoding": {"y": {"datum": 80, "type": "quantitative", "axis": {"values": [0, 20, 40, 60, 80, 100], "labelExpr": "datum.value + ' %'", "tickSize": 4, "labelPadding": 4, "labelOverlap": false, "title": "Physical Busy", "titleX": -106, "titleY": 54, "titleAlign": "center", "titleBaseline": "middle"}}}},
        {"data": {"values": [{}]}, "mark": "rule", "encoding": {"y": {"datum": 100, "type": "quantitative", "axis": {"values": [0, 20, 40, 60, 80, 100], "labelExpr": "datum.value + ' %'", "tickSize": 4, "labelPadding": 4, "labelOverlap": false, "title": "Physical Busy", "titleX": -106, "titleY": 54, "titleAlign": "center", "titleBaseline": "middle"}}}},
        {"data": {"values": [{}]}, "mark": "rule", "encoding": {"x": {"datum": {"year": 2024, "month": 1, "date": 2, "hours": 0}, "type": "temporal", "axis": null}}},
        {
          "mark": "line",
          "encoding": {
            "x": {"field": "time", "type": "temporal", "scale": {"domain": [{"year": 2024, "month": 1, "date": 1, "hours": 0}, {"year": 2024, "month": 1, "date": 2, "hours": 0}]}, "axis": null},
            "y": {"field": "busy", "type": "quantitative", "scale": {"domain": [0, 100], "nice": false},
              "axis": {"values": [0, 20, 40, 60, 80, 100], "labelExpr": "datum.value + ' %'", "tickSize": 4, "labelPadding": 4, "labelOverlap": false, "title": "Physical Busy", "titleX": -106, "titleY": 54, "titleAlign": "center", "titleBaseline": "middle"}},
            "color": {"field": "cpu", "type": "nominal", "scale": {"domain": ["0", "1", "2", "3"], "range": ["#000080", "#ff00ff", "#00ffff", "#800080"]},
              "legend": {"orient": "none", "legendX": 222, "legendY": -23, "direction": "horizontal", "title": null, "symbolType": "stroke", "symbolSize": 144, "symbolStrokeWidth": 1.5, "labelFontSize": 12, "labelFont": "Liberation Sans", "labelColor": "black", "columnPadding": 8, "labelOffset": 4, "padding": 0}}
          }
        }
      ]
    },
    {
      "width": 604, "height": 126,
      "layer": [
        {"data": {"values": [{}]}, "mark": "rule", "encoding": {"y": {"datum": 0, "type": "quantitative", "axis": {"values": [0, 2, 4, 6, 8], "tickSize": 4, "labelPadding": 4, "labelOverlap": false, "title": "L1MP", "titleX": -106, "titleY": 63, "titleAlign": "center", "titleBaseline": "middle"}}}},
        {"data": {"values": [{}]}, "mark": "rule", "encoding": {"y": {"datum": 2, "type": "quantitative", "axis": {"values": [0, 2, 4, 6, 8], "tickSize": 4, "labelPadding": 4, "labelOverlap": false, "title": "L1MP", "titleX": -106, "titleY": 63, "titleAlign": "center", "titleBaseline": "middle"}}}},
        {"data": {"values": [{}]}, "mark": "rule", "encoding": {"y": {"datum": 4, "type": "quantitative", "axis": {"values": [0, 2, 4, 6, 8], "tickSize": 4, "labelPadding": 4, "labelOverlap": false, "title": "L1MP", "titleX": -106, "titleY": 63, "titleAlign": "center", "titleBaseline": "middle"}}}},
        {"data": {"values": [{}]}, "mark": "rule", "encoding": {"y": {"datum": 6, "type": "quantitative", "axis": {"values": [0, 2, 4, 6, 8], "tickSize": 4, "labelPadding": 4, "labelOverlap": false, "title": "L1MP", "titleX": -106, "titleY": 63, "titleAlign": "center", "titleBaseline": "middle"}}}},
        {"data": {"values": [{}]}, "mark": "rule", "encoding": {"y": {"datum": 8, "type": "quantitative", "axis": {"values": [0, 2, 4, 6, 8], "tickSize": 4, "labelPadding": 4, "labelOverlap": false, "title": "L1MP", "titleX": -106, "titleY": 63, "titleAlign": "center", "titleBaseline": "middle"}}}},
        {"data": {"values": [{}]}, "mark": "rule", "encoding": {"x": {"datum": {"year": 2024, "month": 1, "date": 2, "hours": 0}, "type": "temporal", "axis": null}}},
        {
          "mark": "line",
          "encoding": {
            "x": {"field": "time", "type": "temporal", "scale": {"domain": [{"year": 2024, "month": 1, "date": 1, "hours": 0}, {"year": 2024, "month": 1, "date": 2, "hours": 0}]}, "axis": null},
            "y": {"field": "l1mp", "type": "quantitative", "scale": {"domain": [0, 9.22], "nice": false},
              "axis": {"values": [0, 2, 4, 6, 8], "tickSize": 4, "labelPadding": 4, "labelOverlap": false, "title": "L1MP", "titleX": -106, "titleY": 63, "titleAlign": "center", "titleBaseline": "middle"}},
            "color": {"field": "cpu", "type": "nominal"}
          }
        }
      ]
    },
    {
      "width": 604, "height": 126,
      "layer": [
        {"data": {"values": [{}]}, "mark": "rule", "encoding": {"y": {"datum": 1, "type": "quantitative", "axis": {"values": [0, 1, 2, 3, 4, 5, 6], "tickSize": 4, "labelPadding": 4, "labelOverlap": false, "title": "CPI", "titleX": -106, "titleY": 63, "titleAlign": "center", "titleBaseline": "middle"}}}},
        {"data": {"values": [{}]}, "mark": "rule", "encoding": {"y": {"datum": 2, "type": "quantitative", "axis": {"values": [0, 1, 2, 3, 4, 5, 6], "tickSize": 4, "labelPadding": 4, "labelOverlap": false, "title": "CPI", "titleX": -106, "titleY": 63, "titleAlign": "center", "titleBaseline": "middle"}}}},
        {"data": {"values": [{}]}, "mark": "rule", "encoding": {"y": {"datum": 3, "type": "quantitative", "axis": {"values": [0, 1, 2, 3, 4, 5, 6], "tickSize": 4, "labelPadding": 4, "labelOverlap": false, "title": "CPI", "titleX": -106, "titleY": 63, "titleAlign": "center", "titleBaseline": "middle"}}}},
        {"data": {"values": [{}]}, "mark": "rule", "encoding": {"y": {"datum": 4, "type": "quantitative", "axis": {"values": [0, 1, 2, 3, 4, 5, 6], "tickSize": 4, "labelPadding": 4, "labelOverlap": false, "title": "CPI", "titleX": -106, "titleY": 63, "titleAlign": "center", "titleBaseline": "middle"}}}},
        {"data": {"values": [{}]}, "mark": "rule", "encoding": {"y": {"datum": 5, "type": "quantitative", "axis": {"values": [0, 1, 2, 3, 4, 5, 6], "tickSize": 4, "labelPadding": 4, "labelOverlap": false, "title": "CPI", "titleX": -106, "titleY": 63, "titleAlign": "center", "titleBaseline": "middle"}}}},
        {"data": {"values": [{}]}, "mark": "rule", "encoding": {"y": {"datum": 6, "type": "quantitative", "axis": {"values": [0, 1, 2, 3, 4, 5, 6], "tickSize": 4, "labelPadding": 4, "labelOverlap": false, "title": "CPI", "titleX": -106, "titleY": 63, "titleAlign": "center", "titleBaseline": "middle"}}}},
        {"data": {"values": [{}]}, "mark": "rule", "encoding": {"x": {"datum": {"year": 2024, "month": 1, "date": 2, "hours": 0}, "type": "temporal"}}},
        {
          "mark": "line",
          "encoding": {
            "x": {"field": "time", "type": "temporal", "scale": {"domain": [{"year": 2024, "month": 1, "date": 1, "hours": 0}, {"year": 2024, "month": 1, "date": 2, "hours": 0}]},
              "axis": {
                "values": [
                  {"year": 2024, "month": 1, "date": 1, "hours": 0}, {"year": 2024, "month": 1, "date": 1, "hours": 1},
                  {"year": 2024, "month": 1, "date": 1, "hours": 2}, {"year": 2024, "month": 1, "date": 1, "hours": 3},
                  {"year": 2024, "month": 1, "date": 1, "hours": 4}, {"year": 2024, "month": 1, "date": 1, "hours": 5},
                  {"year": 2024, "month": 1, "date": 1, "hours": 6}, {"year": 2024, "month": 1, "date": 1, "hours": 7},
                  {"year": 2024, "month": 1, "date": 1, "hours": 8}, {"year": 2024, "month": 1, "date": 1, "hours": 9},
                  {"year": 2024, "month": 1, "date": 1, "hours": 10}, {"year": 2024, "month": 1, "date": 1, "hours": 11},
                  {"year": 2024, "month": 1, "date": 1, "hours": 12}, {"year": 2024, "month": 1, "date": 1, "hours": 13},
                  {"year": 2024, "month": 1, "date": 1, "hours": 14}, {"year": 2024, "month": 1, "date": 1, "hours": 15},
                  {"year": 2024, "month": 1, "date": 1, "hours": 16}, {"year": 2024, "month": 1, "date": 1, "hours": 17},
                  {"year": 2024, "month": 1, "date": 1, "hours": 18}, {"year": 2024, "month": 1, "date": 1, "hours": 19},
                  {"year": 2024, "month": 1, "date": 1, "hours": 20}, {"year": 2024, "month": 1, "date": 1, "hours": 21},
                  {"year": 2024, "month": 1, "date": 1, "hours": 22}, {"year": 2024, "month": 1, "date": 1, "hours": 23},
                  {"year": 2024, "month": 1, "date": 2, "hours": 0}
                ],
                "labelExpr": "hours(datum.value) % 2 == 1 ? '' : (hours(datum.value) % 4 == 2 ? ['', timeFormat(datum.value, '%-I:%M %p')] : timeFormat(datum.value, '%-I:%M %p'))",
                "labelLineHeight": 15, "labelBaseline": "top", "labelPadding": 9, "labelOverlap": false, "labelFlush": false,
                "tickSize": {"condition": {"test": "hours(datum.value) % 2 == 1", "value": 4}, "value": 7},
                "title": null}},
            "y": {"field": "cpi", "type": "quantitative", "scale": {"domain": [0, 7], "nice": false},
              "axis": {"values": [0, 1, 2, 3, 4, 5, 6], "tickSize": 4, "labelPadding": 4, "labelOverlap": false, "title": "CPI", "titleX": -106, "titleY": 63, "titleAlign": "center", "titleBaseline": "middle"}},
            "color": {"field": "cpu", "type": "nominal"}
          }
        }
      ]
    }
  ]
}
